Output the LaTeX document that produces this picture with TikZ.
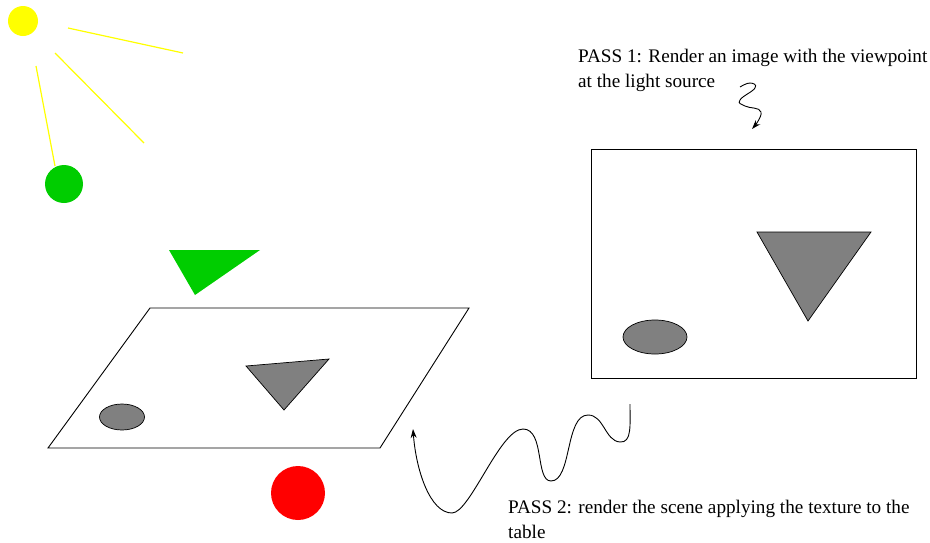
\documentclass[tikz,border=0pt]{standalone}
\usepackage{fontspec}
\setmainfont{Liberation Serif}
\usetikzlibrary{arrows.meta}
\definecolor{sunyellow}{RGB}{255,255,0}
\definecolor{ballgreen}{RGB}{0,205,0}
\definecolor{ballred}{RGB}{255,0,0}
\definecolor{shadowgray}{RGB}{128,128,128}
\tikzset{
  ray/.style={draw=sunyellow, line width=1.2pt},
  shadowobj/.style={fill=shadowgray, draw=black, line width=0.7pt},
  outline/.style={draw=black, line width=0.9pt},
  squiggle/.style={draw=black, line width=0.9pt, -{Stealth[length=9pt,width=6pt]}},
  label/.style={font=\fontsize{19.2}{24.5}\selectfont, align=left, anchor=north west, inner sep=0pt},
}
\begin{document}
\begin{tikzpicture}[x=1pt,y=-1pt]
\useasboundingbox (0,0) rectangle (930,542);
% light source and rays
\fill[sunyellow] (23,21) circle (15);
\draw[ray] (68,28) -- (183,53);
\draw[ray] (55,53) -- (144,143);
\draw[ray] (36,66) -- (55,166);
% green ball and green triangle
\fill[ballgreen] (64,184) circle (19);
\fill[ballgreen] (169,250) -- (260,250) -- (195,295) -- cycle;
% table
\draw[outline] (150,308) -- (469,308) -- (380,448) -- (48,448) -- cycle;
\draw[shadowobj] (246,366) -- (329,359) -- (284,410) -- cycle;
\draw[shadowobj] (122,417) ellipse [x radius=22.5, y radius=13];
% red ball
\fill[ballred] (298,493) circle (27);
% shadow map image
\draw[outline] (591,149) rectangle (916,378);
\draw[shadowobj] (757,232) -- (871,232) -- (808,321) -- cycle;
\draw[shadowobj] (655,337) ellipse [x radius=32, y radius=17];
% texts
\node[label] (p1) at (578,49) {PASS 1: Render an image with the viewpoint\\at the light source};
\node[label] (p2) at (508,500) {PASS 2: render the scene applying the texture to the\\table};
% squiggle arrows
\coordinate (s1) at (740,87);
\coordinate (e1) at (752,129);
\draw[squiggle] plot[smooth, tension=0.8] coordinates {(s1) (750,83) (755,88) (740,100) (745,106) (761,112) (e1)};
\coordinate (s2) at (630,404);
\coordinate (e2) at (413,429);
\draw[squiggle] (s2) .. controls (630,425) and (632,443) .. (620,442)
  .. controls (605,441) and (604,415) .. (588,415)
  .. controls (565,415) and (572,481) .. (551,481)
  .. controls (535,481) and (545,429) .. (523,429)
  .. controls (500,429) and (470,513) .. (452,513)
  .. controls (430,513) and (416,470) .. (e2);
\end{tikzpicture}
\end{document}
